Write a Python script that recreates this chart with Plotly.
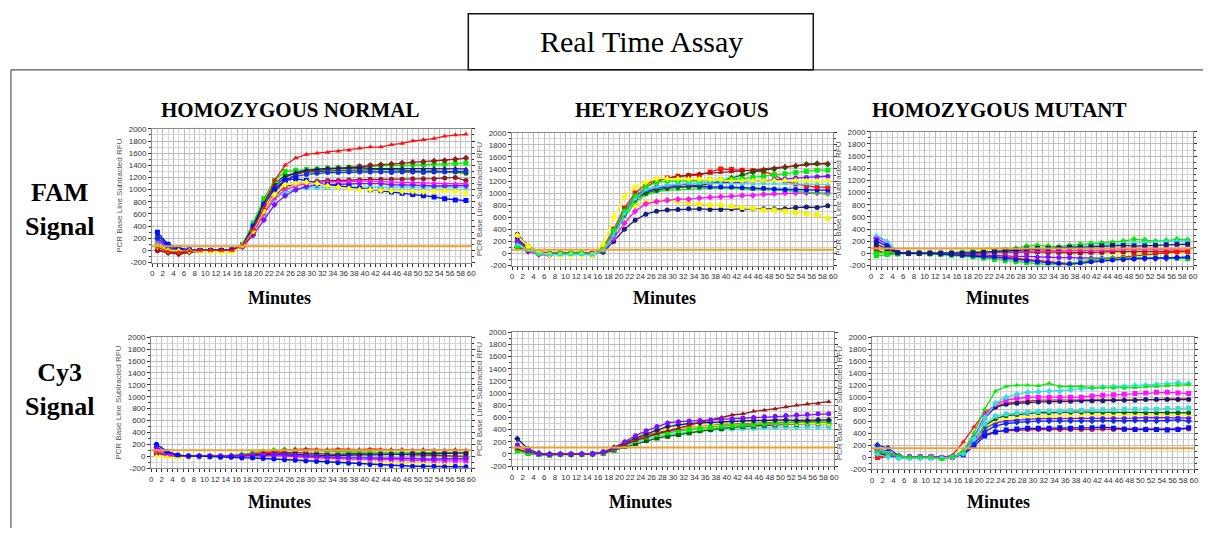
import plotly.graph_objects as go

W, H = 1208, 533

# ---------------- data ----------------
minutes = list(range(1, 60, 2))
x_ticks = list(range(0, 61, 2))
y_ticks = list(range(-200, 2001, 200))

col_titles = ["HOMOZYGOUS NORMAL", "HETYEROZYGOUS", "HOMOZYGOUS MUTANT"]
row_titles = ["FAM<br>Signal", "Cy3<br>Signal"]
x_title = "Minutes"
y_title = "PCR Base Line Subtracted RFU"
main_title = "Real Time Assay"
thresholds = [70, 60, 80, 100, 105, 145]

# FAM - homozygous normal
fam_norm_darkred2 = [0, -30, -40, -20, 0, 0, 0, 0, 70, 320, 650, 900, 1050, 1100, 1120, 1140, 1150, 1150, 1160, 1160, 1170, 1170, 1170, 1170, 1180, 1180, 1180, 1190, 1200, 1150]
fam_norm_cyan = [150, 30, 0, 0, 0, 0, 0, 0, 70, 300, 600, 850, 950, 1000, 1030, 1040, 1040, 1040, 1040, 1030, 1030, 1030, 1040, 1040, 1040, 1030, 1040, 1040, 1040, 1040]
fam_norm_purple = [200, 50, 0, -10, 0, 0, 0, 0, 60, 250, 500, 750, 900, 1000, 1050, 1080, 1080, 1090, 1100, 1100, 1100, 1100, 1080, 1080, 1080, 1070, 1060, 1060, 1060, 1070]
fam_norm_magenta = [150, 40, 0, 0, 0, 0, 0, 0, 70, 300, 600, 850, 1000, 1060, 1100, 1120, 1130, 1130, 1140, 1140, 1140, 1130, 1130, 1120, 1120, 1110, 1110, 1100, 1100, 1100]
fam_norm_darkgreen = [60, 10, -10, 0, 0, 0, 0, 0, 90, 420, 800, 1100, 1230, 1270, 1290, 1300, 1310, 1320, 1320, 1320, 1330, 1330, 1330, 1320, 1320, 1300, 1310, 1300, 1290, 1270]
fam_norm_green = [80, 0, -20, 0, 0, 0, 0, 10, 100, 450, 850, 1150, 1300, 1320, 1330, 1340, 1350, 1360, 1370, 1380, 1390, 1400, 1400, 1400, 1410, 1410, 1420, 1420, 1430, 1440]
fam_norm_darkred = [0, -40, -60, -30, -10, 0, 0, 0, 60, 300, 650, 950, 1150, 1250, 1300, 1320, 1340, 1350, 1360, 1380, 1400, 1410, 1420, 1440, 1450, 1460, 1470, 1480, 1500, 1520]
fam_norm_navy = [250, 80, 20, 0, 0, 0, 0, 0, 90, 380, 780, 1050, 1200, 1280, 1320, 1340, 1350, 1350, 1360, 1360, 1350, 1350, 1340, 1350, 1340, 1340, 1350, 1350, 1350, 1340]
fam_norm_blue2 = [200, 60, 10, 0, 0, 0, 0, 0, 80, 360, 750, 1020, 1150, 1220, 1250, 1270, 1280, 1280, 1290, 1290, 1290, 1290, 1280, 1290, 1290, 1280, 1290, 1290, 1300, 1300]
fam_norm_blue = [300, 100, 40, 10, 0, 0, 0, 10, 80, 400, 750, 1000, 1150, 1180, 1150, 1100, 1080, 1060, 1050, 1020, 1000, 980, 960, 940, 920, 900, 880, 850, 830, 820]
fam_norm_yellow = [60, 0, -10, -10, -20, -20, -30, -30, 80, 320, 650, 920, 1080, 1100, 1120, 1100, 1060, 1040, 1020, 1000, 1000, 990, 980, 970, 970, 960, 970, 980, 970, 950]
fam_norm_red = [50, -20, -30, -10, 0, 0, 0, 0, 80, 350, 700, 1150, 1400, 1520, 1580, 1600, 1610, 1630, 1650, 1680, 1700, 1700, 1740, 1760, 1800, 1820, 1840, 1880, 1900, 1910]

# FAM - heterozygous
fam_het_navy = [320, 120, 30, 0, 0, 0, 0, 0, 20, 200, 400, 550, 650, 700, 720, 730, 740, 740, 730, 730, 740, 730, 740, 740, 740, 740, 760, 770, 760, 790]
fam_het_yellow2 = [250, 100, 10, -20, -20, -20, -20, -20, 100, 400, 650, 800, 850, 860, 880, 860, 840, 820, 800, 800, 780, 760, 750, 720, 720, 700, 680, 660, 640, 580]
fam_het_magenta = [100, 30, -20, -30, 0, 0, 0, -20, 50, 250, 500, 700, 820, 860, 880, 900, 900, 920, 930, 940, 950, 960, 960, 980, 990, 1000, 1000, 1000, 1000, 1000]
fam_het_green2 = [150, 60, 0, -10, 0, 0, 0, -10, 50, 300, 600, 850, 970, 1020, 1050, 1060, 1070, 1070, 1080, 1080, 1080, 1070, 1060, 1060, 1050, 1040, 1030, 1020, 1000, 980]
fam_het_blue = [250, 80, 10, 0, 0, 0, 0, 0, 60, 320, 650, 900, 1020, 1080, 1100, 1110, 1110, 1110, 1100, 1100, 1100, 1090, 1080, 1080, 1070, 1060, 1060, 1050, 1050, 1050]
fam_het_red = [200, 80, 20, 0, 0, 0, 0, 0, 90, 400, 750, 1000, 1150, 1220, 1250, 1280, 1290, 1300, 1350, 1400, 1390, 1380, 1370, 1360, 1300, 1200, 1150, 1120, 1100, 1100]
fam_het_darkgreen = [100, 50, 0, -10, 0, 0, 0, -10, 60, 350, 680, 900, 1000, 1050, 1080, 1100, 1120, 1130, 1150, 1200, 1250, 1300, 1350, 1380, 1400, 1430, 1450, 1480, 1490, 1480]
fam_het_darkred = [200, 100, 20, 0, 0, 0, 0, 0, 80, 350, 700, 950, 1100, 1200, 1250, 1280, 1300, 1320, 1330, 1340, 1350, 1370, 1380, 1400, 1420, 1440, 1460, 1470, 1480, 1500]
fam_het_purple = [200, 80, 10, -20, -10, 0, 0, -10, 70, 350, 700, 950, 1050, 1100, 1120, 1140, 1150, 1160, 1160, 1170, 1180, 1180, 1200, 1200, 1220, 1240, 1250, 1260, 1270, 1280]
fam_het_green = [120, 80, 0, -10, -10, 0, 0, -20, 60, 380, 700, 950, 1100, 1180, 1200, 1200, 1200, 1210, 1220, 1220, 1230, 1240, 1260, 1280, 1300, 1320, 1340, 1360, 1380, 1380]
fam_het_yellow = [300, 120, 20, -20, -20, -20, -20, -20, 150, 600, 950, 1100, 1180, 1240, 1240, 1240, 1230, 1230, 1220, 1220, 1200, 1200, 1200, 1200, 1200, 1210, 1210, 1200, 1200, 1200]
fam_het_cyan = [150, 50, 0, -20, -20, -20, -20, -20, 50, 300, 650, 900, 1050, 1100, 1130, 1150, 1160, 1160, 1160, 1160, 1150, 1150, 1150, 1160, 1160, 1160, 1150, 1150, 1150, 1140]

# FAM - homozygous mutant
fam_mut_yellow = [50, 20, 0, 0, 0, 0, 0, 0, 20, 40, 60, 60, 60, 60, 50, 50, 40, 40, 30, 20, 20, 20, 10, 0, 0, 0, 0, 0, 0, 0]
fam_mut_darkred = [50, 0, 0, 0, 0, 0, 0, 0, 0, 10, 10, 20, 20, 20, 20, 30, 20, 20, 10, 10, 20, 20, 30, 30, 20, 20, 20, 30, 40, 30]
fam_mut_purple = [250, 150, 10, 0, 0, 0, 0, -10, -10, -20, -30, -40, -40, -50, -50, -60, -60, -70, -70, -80, -80, -80, -80, -90, -90, -90, -90, -90, -80, -80]
fam_mut_magenta = [280, 200, 20, 0, 0, 0, 0, 0, 0, 10, 10, 20, 20, 30, 30, 40, 40, 40, 40, 50, 50, 50, 50, 60, 60, 60, 60, 70, 60, 50]
fam_mut_red = [100, 60, 0, 0, 0, 0, 0, -10, -20, -30, -40, -50, -60, -80, -100, -120, -140, -160, -170, -150, -120, -100, -80, -60, -40, -20, 0, 10, 20, 30]
fam_mut_green2 = [-40, -20, -10, 0, 0, -10, -20, -30, -40, -60, -80, -100, -120, -140, -160, -170, -180, -180, -170, -140, -110, -100, -90, -80, -80, -70, -70, -70, -80, -90]
fam_mut_green = [0, 20, 0, 0, 0, 0, 0, 10, 20, 30, 20, 30, 50, 80, 120, 130, 120, 110, 130, 150, 160, 170, 180, 200, 230, 220, 200, 210, 230, 220]
fam_mut_cyan = [300, 200, 20, 0, 0, 0, 0, 0, 10, 20, 20, 30, 40, 50, 60, 70, 80, 90, 100, 110, 120, 140, 150, 160, 170, 170, 180, 200, 210, 200]
fam_mut_blue = [200, 120, 10, 0, 0, 0, -10, -20, -30, -40, -50, -60, -80, -100, -120, -140, -160, -170, -180, -160, -140, -120, -110, -100, -90, -80, -80, -70, -70, -60]
fam_mut_navy = [150, 80, 10, 0, 0, 0, 0, 0, 0, 10, 20, 30, 50, 60, 70, 80, 80, 90, 100, 100, 110, 120, 130, 130, 120, 120, 130, 140, 150, 150]

# Cy3 - homozygous normal
cy3_norm_cyan = [60, 10, 0, 0, 0, 0, 0, 0, 10, 20, 20, 30, 30, 20, 10, 10, 0, -10, -10, -20, -20, -30, -30, -40, -40, -40, -50, -50, -60, -50]
cy3_norm_darkred = [50, 10, 0, 0, 0, 0, 0, 0, 10, 30, 40, 60, 60, 60, 50, 40, 30, 30, 40, 40, 40, 40, 30, 30, 20, 20, 10, 10, 0, 0]
cy3_norm_green = [80, 20, 0, 0, 0, 0, 0, 10, 30, 60, 80, 100, 110, 110, 100, 90, 80, 80, 70, 70, 60, 60, 60, 60, 60, 70, 60, 60, 70, 60]
cy3_norm_red = [60, 20, 0, 0, 0, 0, 0, 10, 20, 40, 60, 80, 100, 110, 120, 110, 110, 120, 110, 110, 120, 110, 110, 110, 100, 110, 100, 100, 110, 100]
cy3_norm_navy = [150, 60, 10, 0, 0, 0, -10, 0, 10, 20, 30, 40, 40, 30, 20, 20, 10, 10, 20, 20, 20, 30, 30, 30, 40, 40, 40, 50, 50, 50]
cy3_norm_magenta = [100, 40, 0, 0, -10, -10, -10, -10, 0, 10, 10, 10, 0, -10, -20, -30, -40, -40, -50, -50, -60, -60, -60, -70, -70, -70, -80, -80, -80, -80]
cy3_norm_purple = [150, 60, 10, 0, 0, 0, 0, 0, 0, 10, 10, 20, 20, 10, 0, -10, -20, -20, -30, -30, -30, -40, -40, -40, -40, -50, -50, -40, -40, -40]
cy3_norm_yellow = [0, -20, -30, -20, -20, -30, -30, -30, -30, -40, -40, -50, -50, -60, -60, -70, -80, -90, -100, -100, -110, -110, -120, -120, -130, -130, -140, -140, -150, -150]
cy3_norm_blue = [200, 80, 20, 0, 0, -10, -20, -20, -30, -30, -40, -50, -60, -70, -80, -90, -100, -110, -120, -130, -140, -150, -160, -160, -170, -170, -170, -180, -170, -180]

# Cy3 - heterozygous
cy3_het_cyan = [60, 10, -10, -20, -10, -10, -10, 0, 20, 70, 140, 200, 250, 290, 320, 340, 360, 380, 390, 400, 410, 420, 420, 430, 430, 440, 440, 440, 440, 440]
cy3_het_darkgreen = [60, 10, -10, -20, -10, -10, -10, 0, 10, 60, 120, 170, 220, 260, 290, 320, 350, 380, 400, 420, 440, 450, 460, 470, 480, 490, 490, 500, 500, 500]
cy3_het_magenta = [100, 30, 0, -10, -10, 0, 0, 0, 20, 90, 160, 230, 290, 330, 370, 400, 420, 440, 450, 460, 470, 480, 480, 490, 490, 490, 500, 500, 500, 500]
cy3_het_red = [100, 30, 0, -10, 0, 0, 0, 0, 30, 100, 170, 240, 300, 350, 390, 420, 440, 460, 470, 480, 490, 500, 510, 520, 520, 520, 530, 530, 530, 520]
cy3_het_yellow = [100, 30, 0, -20, -20, -20, -20, -10, 40, 120, 200, 280, 340, 380, 400, 420, 440, 450, 460, 470, 480, 490, 490, 500, 500, 500, 500, 510, 510, 500]
cy3_het_green = [50, 10, -10, -20, -10, -10, -10, 0, 20, 80, 150, 220, 280, 320, 350, 380, 400, 420, 440, 460, 470, 480, 490, 500, 510, 510, 520, 520, 530, 530]
cy3_het_navy = [250, 80, 10, 0, 0, -10, 0, 0, 30, 100, 180, 260, 330, 390, 450, 480, 500, 510, 520, 530, 540, 550, 550, 550, 560, 560, 550, 550, 560, 560]
cy3_het_darkred = [80, 30, 0, -20, 0, 0, 0, 0, 20, 80, 150, 220, 280, 330, 380, 420, 470, 520, 560, 600, 640, 660, 700, 720, 740, 770, 800, 820, 830, 860]
cy3_het_purple = [150, 50, 0, -10, 0, 0, 0, 0, 30, 100, 200, 300, 380, 450, 510, 530, 540, 550, 560, 570, 580, 590, 600, 610, 620, 630, 640, 650, 660, 660]

# Cy3 - homozygous mutant
cy3_mut_red2 = [0, 20, 0, 0, 0, 0, -10, 0, 60, 230, 380, 420, 440, 450, 460, 460, 460, 460, 460, 460, 460, 470, 460, 460, 470, 470, 460, 460, 470, 470]
cy3_mut_blue2 = [150, 80, 10, 0, 0, 0, -10, 0, 40, 180, 350, 420, 450, 470, 480, 480, 480, 490, 480, 490, 490, 500, 480, 470, 460, 460, 460, 450, 460, 490]
cy3_mut_purple = [120, 50, 0, 0, 0, 0, -10, 0, 60, 250, 480, 570, 600, 620, 630, 640, 640, 640, 640, 650, 650, 650, 650, 650, 650, 660, 660, 660, 660, 650]
cy3_mut_yellow = [40, 10, -10, -10, -10, -10, -10, 0, 60, 260, 500, 600, 640, 660, 670, 680, 680, 690, 690, 690, 700, 700, 700, 700, 700, 700, 700, 700, 710, 700]
cy3_mut_darkgreen = [80, 20, 0, 0, 0, 0, -10, 0, 60, 280, 520, 640, 690, 710, 730, 740, 740, 750, 750, 750, 750, 750, 750, 750, 750, 740, 740, 740, 740, 740]
cy3_mut_cyan2 = [150, 60, 0, 0, 0, 0, -10, 0, 60, 280, 550, 680, 720, 740, 750, 760, 770, 770, 780, 780, 790, 790, 790, 800, 800, 800, 800, 810, 810, 820]
cy3_mut_blue = [200, 150, 20, 0, 0, 0, -10, 0, 50, 220, 420, 520, 560, 580, 590, 600, 600, 600, 600, 600, 600, 610, 600, 600, 610, 610, 600, 610, 620, 600]
cy3_mut_red = [-30, 20, 0, 0, 0, 0, -10, 30, 250, 500, 750, 850, 900, 920, 940, 950, 950, 950, 950, 950, 950, 950, 950, 960, 960, 960, 960, 970, 970, 970]
cy3_mut_navy = [50, 20, 0, 0, 0, 0, -10, 0, 70, 330, 650, 830, 880, 900, 910, 920, 920, 930, 930, 940, 940, 940, 950, 950, 950, 960, 960, 960, 960, 960]
cy3_mut_magenta = [100, 40, 0, 0, 0, 0, -10, 0, 70, 320, 700, 880, 950, 980, 1000, 1000, 1000, 1000, 1000, 1000, 1020, 1030, 1040, 1050, 1060, 1070, 1080, 1080, 1070, 1060]
cy3_mut_cyan = [50, 0, -20, -20, -20, -10, -20, 0, 60, 300, 650, 900, 1000, 1050, 1080, 1090, 1100, 1100, 1120, 1140, 1150, 1170, 1180, 1180, 1190, 1200, 1210, 1220, 1240, 1230]
cy3_mut_green = [100, 60, 20, 0, 0, 0, -40, 0, 100, 400, 800, 1100, 1180, 1200, 1200, 1190, 1230, 1180, 1180, 1180, 1160, 1160, 1150, 1150, 1160, 1170, 1180, 1190, 1200, 1210]

# ---------------- styles ----------------
COLORS = {
    "red": "#ff1010", "darkred": "#9a1818", "darkred2": "#8b2020",
    "green": "#00ee00", "green2": "#10e010", "darkgreen": "#006400",
    "blue": "#0010ff", "blue2": "#1030e0", "navy": "#1c1c78",
    "purple": "#7a10ff", "magenta": "#ff10ff", "yellow": "#ffff00",
    "yellow2": "#f5f500", "cyan": "#30e0e0", "cyan2": "#40d8d8",
}
SYMBOLS = ["circle", "square", "diamond", "triangle-up"]

panel_series = [
    [("darkred2", fam_norm_darkred2), ("cyan", fam_norm_cyan), ("purple", fam_norm_purple),
     ("magenta", fam_norm_magenta), ("darkgreen", fam_norm_darkgreen), ("green", fam_norm_green),
     ("darkred", fam_norm_darkred), ("navy", fam_norm_navy), ("blue2", fam_norm_blue2),
     ("blue", fam_norm_blue), ("yellow", fam_norm_yellow), ("red", fam_norm_red)],
    [("navy", fam_het_navy), ("yellow2", fam_het_yellow2), ("magenta", fam_het_magenta),
     ("green2", fam_het_green2), ("blue", fam_het_blue), ("red", fam_het_red),
     ("darkgreen", fam_het_darkgreen), ("darkred", fam_het_darkred), ("purple", fam_het_purple),
     ("green", fam_het_green), ("yellow", fam_het_yellow), ("cyan", fam_het_cyan)],
    [("yellow", fam_mut_yellow), ("darkred", fam_mut_darkred), ("purple", fam_mut_purple),
     ("magenta", fam_mut_magenta), ("red", fam_mut_red), ("green2", fam_mut_green2),
     ("green", fam_mut_green), ("cyan", fam_mut_cyan), ("blue", fam_mut_blue), ("navy", fam_mut_navy)],
    [("cyan", cy3_norm_cyan), ("darkred", cy3_norm_darkred), ("green", cy3_norm_green),
     ("red", cy3_norm_red), ("navy", cy3_norm_navy), ("magenta", cy3_norm_magenta),
     ("purple", cy3_norm_purple), ("yellow", cy3_norm_yellow), ("blue", cy3_norm_blue)],
    [("cyan", cy3_het_cyan), ("darkgreen", cy3_het_darkgreen), ("magenta", cy3_het_magenta),
     ("red", cy3_het_red), ("yellow", cy3_het_yellow), ("green", cy3_het_green),
     ("navy", cy3_het_navy), ("darkred", cy3_het_darkred), ("purple", cy3_het_purple)],
    [("red", cy3_mut_red2), ("blue", cy3_mut_blue2), ("purple", cy3_mut_purple),
     ("yellow", cy3_mut_yellow), ("darkgreen", cy3_mut_darkgreen), ("cyan2", cy3_mut_cyan2),
     ("blue2", cy3_mut_blue), ("red", cy3_mut_red), ("navy", cy3_mut_navy),
     ("magenta", cy3_mut_magenta), ("cyan", cy3_mut_cyan), ("green", cy3_mut_green)],
]

# panel pixel boxes (left, right, top, bottom)
boxes = [(151, 472, 127, 263), (513, 836, 131, 266), (874, 1198, 130, 266),
         (150, 472, 339, 472), (513, 837, 334, 470), (875, 1199, 339, 473)]


def px(x):
    return x / W


def py(y):
    return 1 - y / H


fig = go.Figure()
layout = {}
shapes = []
tick_font = dict(family="Liberation Sans Narrow, Arial Narrow, Liberation Sans, Arial", size=8, color="#333")

for i, (series, box) in enumerate(zip(panel_series, boxes)):
    n = "" if i == 0 else str(i + 1)
    xa, ya = "x" + n, "y" + n
    l, r, t, b = box
    for k, (cname, vals) in enumerate(series):
        fig.add_trace(go.Scatter(
            x=minutes, y=vals, xaxis=xa, yaxis=ya, mode="lines+markers",
            line=dict(color=COLORS[cname], width=1.3),
            marker=dict(color=COLORS[cname], size=5, symbol=SYMBOLS[k % 4]),
            showlegend=False, hoverinfo="skip"))
    layout["xaxis" + n] = dict(
        domain=[px(l), px(r)], anchor=ya, range=[0, 60], tickmode="array",
        tickvals=x_ticks, ticktext=[str(v) for v in x_ticks], tickangle=0,
        showgrid=True, gridcolor="#bdbdbd", gridwidth=1,
        minor=dict(dtick=1, tick0=0, showgrid=True, gridcolor="#d6d6d6",
                   ticks="outside", ticklen=3, tickcolor="#333"),
        ticks="outside", ticklen=3, tickcolor="#333",
        showline=True, linecolor="#8a8a8a", linewidth=1, mirror=True,
        zeroline=False, fixedrange=True, tickfont=tick_font)
    layout["yaxis" + n] = dict(
        domain=[py(b), py(t)], anchor=xa, range=[-200, 2000], tickmode="array",
        tickvals=y_ticks, ticktext=[str(v) for v in y_ticks],
        showgrid=True, gridcolor="#bdbdbd", gridwidth=1,
        minor=dict(dtick=100, tick0=0, showgrid=True, gridcolor="#d6d6d6",
                   ticks="outside", ticklen=2, tickcolor="#333"),
        ticks="outside", ticklen=3, tickcolor="#333",
        showline=True, linecolor="#8a8a8a", linewidth=1, mirror="ticks",
        zeroline=False, fixedrange=True, tickfont=tick_font,
        title=dict(text=y_title, standoff=4,
                   font=dict(family="Liberation Sans, Arial", size=8, color="#555")))
    shapes.append(dict(type="line", xref=xa + " domain", yref=ya,
                       x0=0, x1=1, y0=thresholds[i], y1=thresholds[i],
                       line=dict(color="#f0a030", width=2), layer="above"))

# outer frame and title box
shapes.append(dict(type="line", xref="paper", yref="paper", x0=px(9), x1=1, y0=py(67), y1=py(67),
                   line=dict(color="#555", width=1.2)))
shapes.append(dict(type="line", xref="paper", yref="paper", x0=px(9), x1=px(9), y0=py(67), y1=0,
                   line=dict(color="#555", width=1.2)))
shapes.append(dict(type="rect", xref="paper", yref="paper", x0=px(469), x1=px(816), y0=py(67), y1=py(10),
                   line=dict(color="#111", width=1.5), fillcolor="rgba(0,0,0,0)"))

annotations = []
serif = "Liberation Serif, Times New Roman, serif"
annotations.append(dict(text=main_title, x=px(643), y=py(38), xref="paper", yref="paper",
                        showarrow=False, xanchor="center", yanchor="middle",
                        font=dict(family=serif, size=30, color="#000")))
for cx, txt in zip([290, 674, 1003], col_titles):
    annotations.append(dict(text="<b>%s</b>" % txt, x=px(cx), y=py(108), xref="paper", yref="paper",
                            showarrow=False, xanchor="center", yanchor="middle",
                            font=dict(family=serif, size=21, color="#000")))
for cy, txt in zip([209, 392], row_titles):
    annotations.append(dict(text="<b>%s</b>" % txt, x=px(58), y=py(cy), xref="paper", yref="paper",
                            showarrow=False, xanchor="center", yanchor="middle",
                            font=dict(family=serif, size=26, color="#000")))
for (cx, cy) in [(279, 299), (666, 299), (1001, 299), (279, 507), (642, 507), (1002, 507)]:
    annotations.append(dict(text="<b>%s</b>" % x_title, x=px(cx), y=py(cy), xref="paper", yref="paper",
                            showarrow=False, xanchor="center", yanchor="middle",
                            font=dict(family=serif, size=18, color="#000")))

fig.update_layout(
    width=W, height=H, margin=dict(l=0, r=0, t=0, b=0),
    paper_bgcolor="white", plot_bgcolor="white",
    shapes=shapes, annotations=annotations, showlegend=False, **layout)

fig.write_html("out.html", config={"displayModeBar": False})
